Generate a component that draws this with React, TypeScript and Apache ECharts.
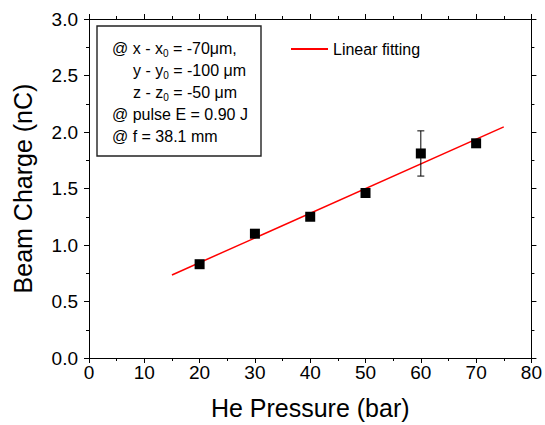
import React, { useEffect, useRef } from "react";
import * as echarts from "echarts";

const pressures = [20, 30, 40, 50, 60, 70];
const charges = [0.83, 1.1, 1.25, 1.46, 1.81, 1.9];
const errorBars = [[60, 1.61, 2.01]];
const fitLine = [[15, 0.735], [75, 2.045]];
const boxLines = [
  "@ x - x{sub|0} = -70μm,",
  "y - y{sub|0} = -100 μm",
  "z - z{sub|0} = -50 μm",
  "@ pulse E = 0.90 J",
  "@ f = 38.1 mm",
];
const boxIndent = [0, 1, 1, 0, 0];

const FONT = "Liberation Sans, Arial, sans-serif";

export default function App() {
  const ref = useRef<HTMLDivElement>(null);
  useEffect(() => {
    if (!ref.current) return;
    const chart = echarts.init(ref.current, null, { renderer: "svg" });
    const axisCommon = {
      axisLine: { show: true, onZero: false, lineStyle: { color: "#000", width: 1 } },
      axisTick: { show: true, inside: false, length: 5, lineStyle: { color: "#000", width: 1 } },
      minorTick: { show: true, splitNumber: 2, length: 3, lineStyle: { color: "#000", width: 1 } },
      splitLine: { show: false },
      minorSplitLine: { show: false },
    };
    const texts: any[] = boxLines.map((t, i) => ({
      type: "text",
      x: boxIndent[i] ? 133 : 112,
      y: 48 + i * 22,
      z: 10,
      style: {
        text: t,
        fill: "#000",
        fontFamily: FONT,
        fontSize: 16,
        lineHeight: 20,
        verticalAlign: "middle",
        rich: {
          sub: { fontSize: 10, lineHeight: 8, verticalAlign: "bottom", fontFamily: FONT, fill: "#000" },
        },
      },
    }));
    chart.setOption({
      animation: false,
      backgroundColor: "#fff",
      grid: { left: 89, right: 10, top: 19, bottom: 67 },
      legend: {
        show: true,
        left: 286,
        top: 36,
        itemWidth: 37,
        itemHeight: 2,
        itemGap: 5,
        icon: "rect",
        data: ["Linear fitting"],
        textStyle: { color: "#000", fontSize: 16, fontFamily: FONT },
      },
      xAxis: [
        {
          type: "value",
          position: "bottom",
          min: 0,
          max: 80,
          interval: 10,
          name: "He Pressure (bar)",
          nameLocation: "middle",
          nameGap: 37,
          nameTextStyle: { color: "#000", fontSize: 25, fontFamily: FONT },
          axisLabel: { color: "#000", fontSize: 19, fontFamily: FONT, margin: 5 },
          ...axisCommon,
        },
        {
          type: "value",
          position: "top",
          min: 0,
          max: 80,
          interval: 10,
          axisLabel: { show: false },
          ...axisCommon,
        },
      ],
      yAxis: [
        {
          type: "value",
          position: "left",
          min: 0,
          max: 3,
          interval: 0.5,
          name: "Beam Charge (nC)",
          nameLocation: "middle",
          nameGap: 54,
          nameTextStyle: { color: "#000", fontSize: 25, fontFamily: FONT },
          axisLabel: {
            color: "#000",
            fontSize: 19,
            fontFamily: FONT,
            margin: 11,
            formatter: (v: number) => v.toFixed(1),
          },
          ...axisCommon,
        },
        {
          type: "value",
          position: "right",
          min: 0,
          max: 3,
          interval: 0.5,
          axisLabel: { show: false },
          ...axisCommon,
        },
      ],
      graphic: [
        {
          type: "rect",
          shape: { x: 97, y: 26, width: 164, height: 130 },
          style: { fill: "#fff", stroke: "#222", lineWidth: 1.4 },
          z: 5,
        },
        ...texts,
      ],
      series: [
        {
          name: "Linear fitting",
          type: "line",
          data: fitLine,
          showSymbol: false,
          symbol: "none",
          lineStyle: { color: "#ff0000", width: 1.5 },
          itemStyle: { color: "#ff0000" },
          z: 2,
        },
        {
          name: "errors",
          type: "custom",
          data: errorBars,
          z: 3,
          renderItem: (params: any, api: any) => {
            const x = api.value(0);
            const lo = api.coord([x, api.value(1)]);
            const hi = api.coord([x, api.value(2)]);
            const st = { stroke: "#000", lineWidth: 1 };
            return {
              type: "group",
              children: [
                { type: "line", shape: { x1: lo[0], y1: lo[1], x2: hi[0], y2: hi[1] }, style: st },
                { type: "line", shape: { x1: lo[0] - 3.5, y1: lo[1], x2: lo[0] + 3.5, y2: lo[1] }, style: st },
                { type: "line", shape: { x1: hi[0] - 3.5, y1: hi[1], x2: hi[0] + 3.5, y2: hi[1] }, style: st },
              ],
            };
          },
        },
        {
          name: "data",
          type: "scatter",
          data: pressures.map((p, i) => [p, charges[i]]),
          symbol: "rect",
          symbolSize: 10,
          itemStyle: { color: "#000", opacity: 1 },
          z: 4,
        },
      ],
    });
    return () => chart.dispose();
  }, []);
  return (
    <div
      ref={ref}
      style={{ position: "fixed", left: 0, top: 0, width: 545, height: 425, background: "#fff" }}
    />
  );
}
